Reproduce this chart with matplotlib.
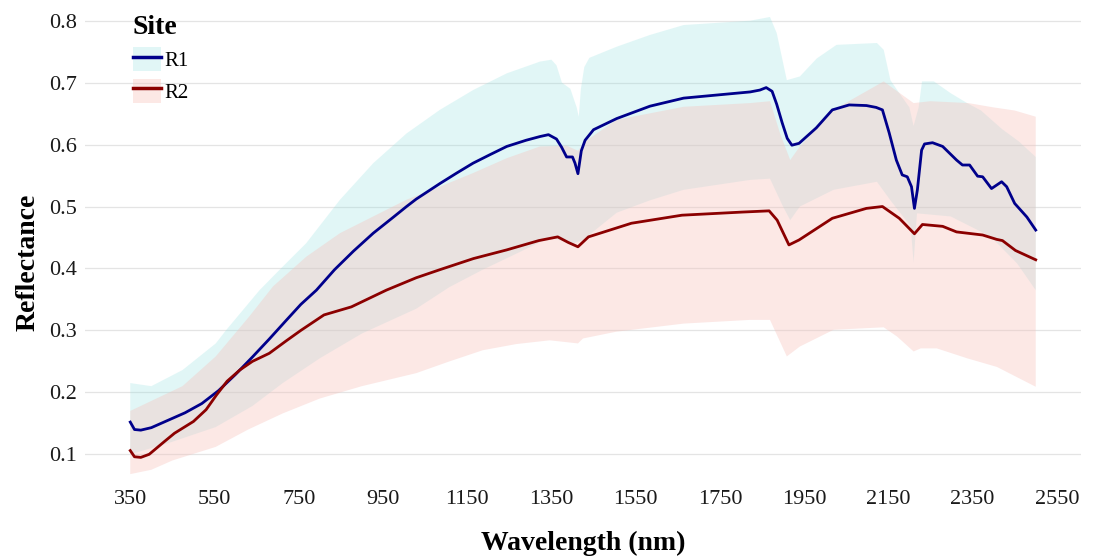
import numpy as np
import matplotlib
matplotlib.use("Agg")
import matplotlib.pyplot as plt
from matplotlib.patches import Patch
from matplotlib.lines import Line2D

plt.rcParams['font.family'] = ['Liberation Serif', 'DejaVu Serif']

# ---------------- data ----------------
r1_wl = [350, 360, 375, 400, 440, 480, 520, 560, 600, 640, 680, 720, 755, 792, 835, 880,
         927, 975, 1006, 1029, 1085, 1125, 1164, 1205, 1244, 1290, 1323, 1343, 1362, 1374,
         1386, 1400, 1406, 1413, 1421, 1430, 1450, 1505, 1584, 1664, 1743, 1822, 1845, 1860,
         1874, 1885, 1898, 1910, 1921, 1938, 1979, 2017, 2057, 2098, 2121, 2136, 2152, 2169,
         2183, 2195, 2205, 2212, 2219, 2229, 2236, 2255, 2279, 2312, 2326, 2343, 2362, 2374,
         2395, 2419, 2431, 2450, 2479, 2500]
r1_mean = [0.152, 0.140, 0.139, 0.143, 0.155, 0.167, 0.182, 0.203, 0.229, 0.257, 0.286, 0.316,
           0.342, 0.365, 0.398, 0.428, 0.457, 0.483, 0.500, 0.512, 0.537, 0.554, 0.570, 0.584,
           0.597, 0.607, 0.613, 0.616, 0.609, 0.596, 0.580, 0.580, 0.570, 0.553, 0.590, 0.607,
           0.624, 0.642, 0.662, 0.675, 0.680, 0.685, 0.688, 0.692, 0.686, 0.665, 0.635, 0.610,
           0.599, 0.602, 0.627, 0.656, 0.664, 0.663, 0.660, 0.656, 0.619, 0.575, 0.551, 0.548,
           0.532, 0.497, 0.527, 0.591, 0.601, 0.603, 0.597, 0.575, 0.567, 0.567, 0.549, 0.548,
           0.529, 0.540, 0.532, 0.505, 0.483, 0.462]

r2_wl = [350, 360, 375, 395, 430, 455, 500, 530, 555, 580, 610, 640, 680, 720, 755, 810, 875,
         958, 1029, 1085, 1165, 1244, 1320, 1365, 1390, 1413, 1438, 1540, 1660, 1802, 1867,
         1886, 1914, 1938, 2017, 2098, 2136, 2176, 2212, 2231, 2279, 2312, 2374, 2407, 2421,
         2452, 2500]
r2_mean = [0.106, 0.096, 0.095, 0.100, 0.120, 0.134, 0.153, 0.172, 0.196, 0.218, 0.236, 0.250,
           0.263, 0.283, 0.300, 0.325, 0.338, 0.365, 0.385, 0.398, 0.416, 0.430, 0.445, 0.451,
           0.442, 0.435, 0.451, 0.473, 0.486, 0.491, 0.493, 0.478, 0.438, 0.446, 0.481, 0.497,
           0.500, 0.481, 0.456, 0.471, 0.468, 0.459, 0.454, 0.447, 0.445, 0.429, 0.414]

# ribbon bounds
r1_up_wl = [350, 400, 474, 553, 577, 657, 712, 768, 848, 927, 1006, 1085, 1164, 1244, 1323,
            1350, 1362, 1375, 1395, 1410, 1415, 1420, 1428, 1440, 1505, 1584, 1664, 1822, 1869,
            1885, 1909, 1940, 1980, 2027, 2123, 2139, 2155, 2171, 2200, 2210, 2222, 2230, 2258,
            2298, 2337, 2370, 2420, 2460, 2500]
r1_up = [0.215, 0.210, 0.236, 0.279, 0.300, 0.365, 0.403, 0.441, 0.511, 0.570, 0.618, 0.656,
         0.688, 0.715, 0.734, 0.737, 0.728, 0.700, 0.690, 0.660, 0.645, 0.690, 0.725, 0.740,
         0.758, 0.777, 0.793, 0.800, 0.806, 0.780, 0.704, 0.710, 0.739, 0.761, 0.764, 0.753,
         0.704, 0.688, 0.660, 0.630, 0.660, 0.702, 0.702, 0.683, 0.667, 0.655, 0.625, 0.605,
         0.580]

r1_lo_wl = [350, 440, 553, 640, 712, 800, 900, 1029, 1108, 1187, 1267, 1346, 1400, 1425, 1505,
            1584, 1664, 1822, 1869, 1900, 1917, 1940, 2020, 2123, 2155, 2203, 2210, 2218, 2298,
            2377, 2401, 2456, 2500]
r1_lo = [0.100, 0.118, 0.144, 0.178, 0.215, 0.255, 0.295, 0.335, 0.370, 0.398, 0.424, 0.450,
         0.440, 0.446, 0.490, 0.510, 0.527, 0.543, 0.545, 0.500, 0.478, 0.500, 0.527, 0.540,
         0.510, 0.468, 0.410, 0.489, 0.484, 0.457, 0.446, 0.408, 0.365]

r2_up_wl = [350, 474, 553, 632, 689, 768, 848, 927, 1006, 1085, 1164, 1244, 1323, 1387, 1413,
            1430, 1505, 1664, 1822, 1869, 1893, 1917, 1940, 2020, 2139, 2163, 2210, 2250, 2340,
            2400, 2450, 2500]
r2_up = [0.170, 0.210, 0.258, 0.322, 0.371, 0.419, 0.457, 0.484, 0.511, 0.532, 0.554, 0.578,
         0.597, 0.598, 0.590, 0.605, 0.640, 0.661, 0.667, 0.670, 0.618, 0.575, 0.597, 0.656,
         0.702, 0.690, 0.667, 0.670, 0.667, 0.660, 0.655, 0.645]

r2_lo_wl = [350, 400, 450, 553, 630, 712, 800, 900, 1029, 1108, 1187, 1267, 1346, 1413, 1425,
            1505, 1664, 1822, 1869, 1909, 1940, 2020, 2139, 2171, 2210, 2227, 2265, 2337, 2408,
            2500]
r2_lo = [0.068, 0.075, 0.090, 0.112, 0.140, 0.166, 0.190, 0.210, 0.231, 0.250, 0.268, 0.278,
         0.284, 0.279, 0.287, 0.298, 0.311, 0.317, 0.317, 0.258, 0.274, 0.301, 0.305, 0.290,
         0.266, 0.271, 0.271, 0.255, 0.241, 0.209]

sites = ["R1", "R2"]
x_ticks = [350, 550, 750, 950, 1150, 1350, 1550, 1750, 1950, 2150, 2350, 2550]
y_ticks = [0.1, 0.2, 0.3, 0.4, 0.5, 0.6, 0.7, 0.8]

# ---------------- styling ----------------
line_cols = ["#00008B", "#8B0000"]
fill_cols = [(138/255, 222/255, 222/255), (247/255, 193/255, 187/255)]
fill_alpha = [0.25, 0.37]

fig = plt.figure(figsize=(11, 5.59), dpi=100)
ax = fig.add_axes([85/1100, 79/559, 996/1100, 480/559])
ax.set_axisbelow(True)

ax.fill(np.r_[r1_up_wl, r1_lo_wl[::-1]], np.r_[r1_up, r1_lo[::-1]],
        color=fill_cols[0], alpha=fill_alpha[0], lw=0, zorder=1)
ax.fill(np.r_[r2_up_wl, r2_lo_wl[::-1]], np.r_[r2_up, r2_lo[::-1]],
        color=fill_cols[1], alpha=fill_alpha[1], lw=0, zorder=2)
ax.plot(r1_wl, r1_mean, color=line_cols[0], lw=2.0, zorder=3)
ax.plot(r2_wl, r2_mean, color=line_cols[1], lw=2.0, zorder=3)

ax.set_xlim(242.5, 2607.5)
ax.set_ylim(0.0585, 0.8334)
ax.set_xticks(x_ticks)
ax.set_yticks(y_ticks)
ax.set_xticklabels([str(v) for v in x_ticks])
ax.set_yticklabels([f"{v:.1f}" for v in y_ticks])
ax.tick_params(axis='both', length=0, labelsize=16, colors='#1a1a1a')
ax.tick_params(axis='x', pad=7.5)
ax.tick_params(axis='y', pad=6)
ax.yaxis.grid(True, color='#e4e4e4', lw=0.9)
ax.xaxis.grid(False)
for s in ax.spines.values():
    s.set_visible(False)

fig.text(583/1100, 1 - 543/559, "Wavelength (nm)", ha='center', va='center',
         fontsize=20, fontweight='bold')
fig.text(28/1100, 1 - 262/559, "Reflectance", ha='center', va='center',
         rotation=90, fontsize=20, fontweight='bold')

handles = [(Patch(facecolor=fill_cols[i], alpha=fill_alpha[i], lw=0),
            Line2D([], [], color=line_cols[i], lw=2.5)) for i in range(2)]
leg = ax.legend(handles, sites, title="Site", loc='upper left',
                bbox_to_anchor=(133/1100, 1 - 15/559), bbox_transform=fig.transFigure,
                frameon=False, fontsize=15, title_fontproperties={'weight': 'bold', 'size': 20},
                handlelength=1.35, handleheight=1.4, labelspacing=0.35,
                handletextpad=0.15, borderpad=0, borderaxespad=0, alignment='left')

fig.savefig("out.png", dpi=100, facecolor='white')
